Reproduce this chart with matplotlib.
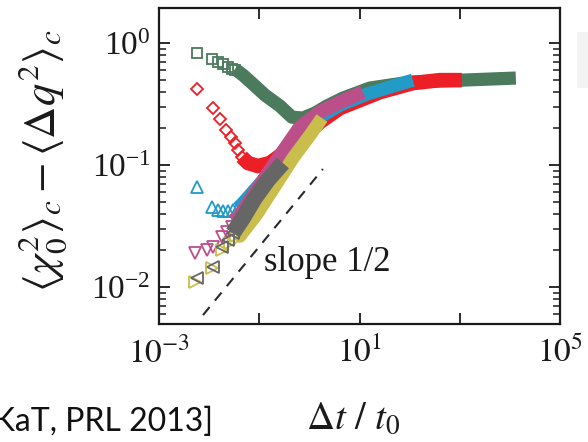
import matplotlib
matplotlib.use("Agg")
import matplotlib.pyplot as plt
from matplotlib.patches import Rectangle
from matplotlib.ticker import LogLocator, NullFormatter, FixedLocator, LogFormatterMathtext

plt.rcParams['font.family'] = ['Liberation Serif', 'DejaVu Serif']
plt.rcParams['mathtext.fontset'] = 'stix'

# ---------------- data ----------------
# green squares
green_mx = [0.00581, 0.01156, 0.01521, 0.01914, 0.02344, 0.02818, 0.0331]
green_my = [0.824, 0.735, 0.695, 0.668, 0.640, 0.619, 0.603]
green_bx = [0.0327, 0.0473, 0.0714, 0.130, 0.259, 0.449, 0.743, 1.29, 2.24, 4.67, 16.1, 101, 1100, 13150]
green_by = [0.612, 0.547, 0.470, 0.375, 0.305, 0.247, 0.243, 0.267, 0.305, 0.354, 0.428, 0.479, 0.497, 0.517]

# red diamonds
red_mx = [0.00565, 0.01211, 0.01644, 0.02168, 0.02692, 0.03273, 0.03811, 0.04457]
red_my = [0.417, 0.295, 0.237, 0.194, 0.171, 0.151, 0.133, 0.117]
red_bx = [0.0446, 0.0596, 0.0942, 0.163, 0.325, 0.649, 1.62, 4.06, 25.5, 116, 401, 1100]
red_by = [0.117, 0.104, 0.0982, 0.104, 0.128, 0.160, 0.225, 0.293, 0.396, 0.470, 0.497, 0.497]

# cyan up-triangles
cyan_mx = [0.00565, 0.01125, 0.0150, 0.0189, 0.0238, 0.0299, 0.0376]
cyan_my = [0.0664, 0.0455, 0.0428, 0.0420, 0.0420, 0.0428, 0.0445]
cyan_bx = [0.0376, 0.0473, 0.130, 0.409, 1.29, 4.06, 14.1, 40.4, 116]
cyan_by = [0.0445, 0.0489, 0.0782, 0.146, 0.234, 0.310, 0.382, 0.436, 0.497]

# magenta down-triangles
mag_mx = [0.00522, 0.00893, 0.01194, 0.0178, 0.0224, 0.0282, 0.0343]
mag_my = [0.0189, 0.0201, 0.0214, 0.0258, 0.0284, 0.0312, 0.0348]
mag_bx = [0.0343, 0.0653, 0.206, 0.649, 1.62, 4.06, 11.7]
mag_by = [0.0348, 0.0516, 0.104, 0.205, 0.272, 0.328, 0.396]

# yellow right-triangles
yel_mx = [0.00522, 0.01125, 0.0178, 0.0261, 0.0343]
yel_my = [0.01106, 0.01422, 0.0201, 0.0229, 0.0262]
yel_bx = [0.0343, 0.0412, 0.0899, 0.206, 0.470, 1.03, 1.78]
yel_by = [0.0262, 0.0262, 0.0397, 0.0673, 0.114, 0.176, 0.243]

# gray left-triangles
gray_mx = [0.00565, 0.01211, 0.0178, 0.0238, 0.0299]
gray_my = [0.01178, 0.01466, 0.0214, 0.0243, 0.0277]
gray_bx = [0.0299, 0.0473, 0.0820, 0.149, 0.297]
gray_by = [0.0277, 0.0368, 0.0537, 0.0754, 0.104]

# slope 1/2 guide line endpoints
guide_x = [0.00754, 1.862]
guide_y = [0.00589, 0.0928]

x_ticks = [1e-3, 1e-1, 1e1, 1e3, 1e5]
x_ticklabels = [r'$10^{-3}$', '', r'$10^{1}$', '', r'$10^{5}$']
y_ticks = [1e-2, 1e-1, 1e0]
# ---------------------------------------------------------------

fig = plt.figure(figsize=(5.88, 4.42), dpi=100)
ax = fig.add_axes([159/588, 1-324/442, (560-159)/588, (324-8)/442])
ax.set_xscale('log')
ax.set_yscale('log')
ax.set_xlim(1e-3, 1e5)
ax.set_ylim(4.98e-3, 1.94)

series = [
    (green_mx, green_my, green_bx, green_by, '#4b7a5d', 's', 7.2, 9.5),
    (red_mx, red_my, red_bx, red_by, '#ec1f27', 'D', 6.5, 10.5),
    (cyan_mx, cyan_my, cyan_bx, cyan_by, '#229bc6', '^', 8.0, 9.5),
    (mag_mx, mag_my, mag_bx, mag_by, '#bb4f89', 'v', 8.0, 10),
    (yel_mx, yel_my, yel_bx, yel_by, '#c9be4b', '>', 8.0, 9.5),
    (gray_mx, gray_my, gray_bx, gray_by, '#666666', '<', 8.0, 11.5),
]
for i, (mx, my, bx, by, col, mk, ms, lw) in enumerate(series):
    ax.plot(bx, by, '-', color=col, lw=lw, solid_capstyle='butt',
            solid_joinstyle='round', zorder=2 + i)
    ax.plot(mx, my, linestyle='none', marker=mk, ms=ms, mfc='none',
            mec=col, mew=1.3, zorder=2 + i)

ax.plot(guide_x, guide_y, color='#2a2a2a', lw=1.5, dashes=(5, 4), zorder=10)
ax.text(0.125, 0.0136, 'slope 1/2', fontsize=25, color='#1a1a1a',
        ha='left', va='baseline', zorder=11)

ax.xaxis.set_major_locator(FixedLocator(x_ticks))
ax.set_xticklabels(x_ticklabels)
ax.xaxis.set_minor_locator(FixedLocator([]))
ax.yaxis.set_major_locator(FixedLocator(y_ticks))
ax.yaxis.set_major_formatter(LogFormatterMathtext())
ax.yaxis.set_minor_locator(LogLocator(base=10, subs=range(2, 10)))
ax.yaxis.set_minor_formatter(NullFormatter())

ax.tick_params(which='both', direction='in', top=True, right=True,
               labelsize=24, colors='#1a1a1a')
ax.tick_params(which='major', length=8, width=1.3)
ax.tick_params(which='minor', length=5, width=1.1)
ax.tick_params(axis='y', which='major', pad=6)
ax.tick_params(axis='x', which='major', pad=9)
for s in ax.spines.values():
    s.set_linewidth(1.6)
    s.set_color('#1a1a1a')

fig.text(43/588, 1-161/442,
         r'$\langle \chi_0^2\rangle_c - \langle \Delta q^2\rangle_c$',
         rotation=90, fontsize=32, ha='center', va='center', color='#1a1a1a')
fig.text(353/588, 1-429/442, r'$\Delta t\ /\ t_0$', fontsize=28,
         ha='center', va='baseline', color='#1a1a1a')
fig.text(213/588, 1-431/442, '[KaT, PRL 2013]', fontsize=23,
         family=['Lato', 'DejaVu Sans'], ha='right', va='baseline',
         color='#111111')

fig.patches.append(Rectangle((577/588, 1-88/442), 12/588, 56/442,
                             transform=fig.transFigure, facecolor='#f3f3f3',
                             edgecolor='none'))

fig.savefig('out.png', dpi=100)
